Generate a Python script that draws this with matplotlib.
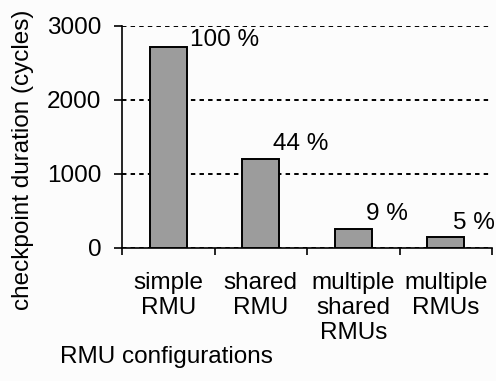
import matplotlib
matplotlib.use("Agg")
import matplotlib.pyplot as plt
import numpy as np

categories = ["simple\nRMU", "shared\nRMU", "multiple\nshared\nRMUs", "multiple\nRMUs"]
durations = [2720, 1200, 255, 150]
percent_labels = ["100 %", "44 %", "9 %", "5 %"]
y_ticks = [0, 1000, 2000, 3000]

plt.rcParams['font.family'] = ['Liberation Sans', 'DejaVu Sans']
plt.rcParams['lines.scale_dashes'] = False
FS = 17.5

fig = plt.figure(figsize=(4.96, 3.81), dpi=100)
fig.patch.set_facecolor('#fcfcfc')
ax = fig.add_axes([122/496, 1-248/381, 370/496, 222/381])
ax.set_facecolor('#fcfcfc')

x = np.arange(len(categories)) + 0.5
ax.bar(x, durations, width=0.4, color='#9c9c9c', edgecolor='black', linewidth=1.4, zorder=3)

ax.set_xlim(0, len(categories))
ax.set_ylim(0, 3000)
ax.set_yticks(y_ticks)
ax.set_yticklabels([str(t) for t in y_ticks], fontsize=FS)
ax.set_xticks(x)
ax.set_xticklabels(categories, fontsize=FS, linespacing=1.2)
ax.set_xticks(np.arange(len(categories) + 1), minor=True)
ax.tick_params(axis='x', which='major', length=0, pad=17)
ax.tick_params(axis='x', which='minor', length=5, width=1.2, direction='out')
ax.tick_params(axis='y', length=6, width=1.2, pad=9, direction='out')

for s in ['top', 'right']:
    ax.spines[s].set_visible(False)
for s in ['left', 'bottom']:
    ax.spines[s].set_linewidth(1.2)

ax.yaxis.grid(True, color='black', linestyle=(0, (3.2, 3.0)), linewidth=1.4, zorder=0)
ax.set_axisbelow(True)

label_dx = [0.24, 0.13, 0.14, 0.08]
label_dy = [-3, 3, 3, 2]
for xi, v, lab, dx, dy in zip(x, durations, percent_labels, label_dx, label_dy):
    ax.annotate(lab, (xi + dx, v), xytext=(0, dy), textcoords='offset points',
                ha='left', va='bottom', fontsize=FS, zorder=4, annotation_clip=False)

ax.set_ylabel("checkpoint duration (cycles)", fontsize=FS, va='center')
ax.yaxis.set_label_coords((23-122)/370, (248-160)/222)
ax.set_xlabel("RMU configurations", fontsize=FS, ha='left', va='center')
ax.xaxis.set_label_coords((60-122)/370, (248-357)/222)

fig.savefig("out.png", dpi=100, facecolor=fig.get_facecolor())
